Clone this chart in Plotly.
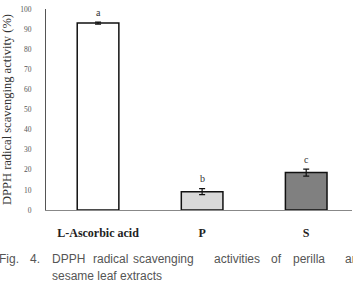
import plotly.graph_objects as go

categories = ["L-Ascorbic acid", "P", "S"]
values = [93.0, 9.1, 18.6]
errors = [0.5, 1.5, 1.7]
letters = ["a", "b", "c"]
colors = ["#ffffff", "#d9d9d9", "#808080"]
yticks = list(range(0, 101, 10))
caption_words = ["Fig.", "4.", "DPPH", "radical", "scavenging", "activities", "of", "perilla", "and"]
caption_x = [-3, 28, 50, 91, 131, 212, 269, 291, 343]
caption_line2 = "sesame leaf extracts"

fig = go.Figure()
fig.add_trace(go.Bar(
    x=[0, 1, 2], y=values, width=0.4,
    marker=dict(color=colors, line=dict(color="#111111", width=1.5)),
    error_y=dict(type="data", array=errors, color="#111111", thickness=1.2, width=3),
))

for i, (v, e, l) in enumerate(zip(values, errors, letters)):
    fig.add_annotation(x=i, y=v + e, text=l, showarrow=False, yshift=10,
                       font=dict(family="Liberation Serif", size=10, color="#333333"))

for w, xp in zip(caption_words, caption_x):
    fig.add_annotation(xref="paper", yref="paper", x=(xp - 46) / 306, y=-(259 - 210) / 201,
                       xanchor="left", yanchor="middle", text=w, showarrow=False,
                       font=dict(family="Liberation Sans", size=12, color="#555555"))
fig.add_annotation(xref="paper", yref="paper", x=(50 - 46) / 306, y=-(276 - 210) / 201,
                   xanchor="left", yanchor="middle", text=caption_line2, showarrow=False,
                   font=dict(family="Liberation Sans", size=12, color="#555555"))

fig.update_layout(
    width=353, height=284,
    margin=dict(l=46, r=1, t=9, b=74),
    paper_bgcolor="white", plot_bgcolor="white",
    showlegend=False,
    xaxis=dict(range=[-0.5, 2.44], tickvals=[0, 1, 2], ticktext=categories,
               showline=True, linecolor="#888888", linewidth=1, showgrid=False,
               ticks="", zeroline=False, ticklabelstandoff=12,
               tickfont=dict(family="Liberation Serif", size=12, color="#222222", weight="bold")),
    yaxis=dict(range=[0, 100], tickvals=yticks, showline=True, linecolor="#555555",
               linewidth=1, showgrid=False, ticks="", zeroline=False, ticklabelstandoff=12,
               tickfont=dict(family="Liberation Serif", size=7.5, color="#555555"),
               title=dict(text="DPPH radical scavenging activity (%)", standoff=6,
                          font=dict(family="Liberation Serif", size=12.5, color="#333333"))),
)

fig.write_html("out.html")
